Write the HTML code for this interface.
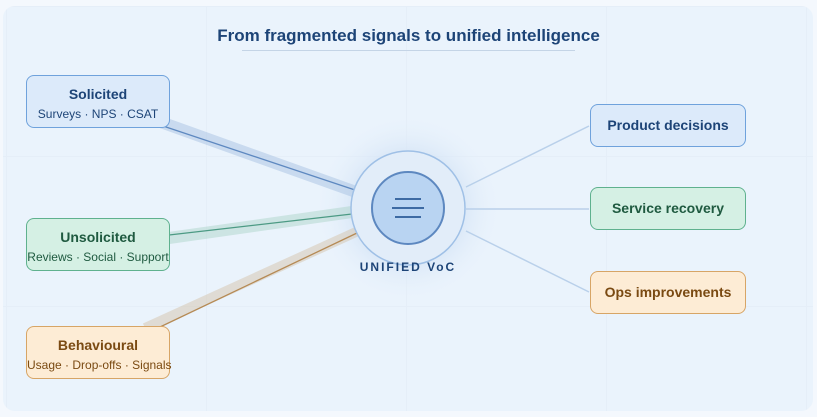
<!DOCTYPE html>
<html><head><meta charset="utf-8"><style>
body{margin:0;width:817px;height:417px;background:#f4f8fd;font-family:"Liberation Sans",sans-serif;overflow:hidden;position:relative}
.panel{position:absolute;left:3px;top:6px;width:810px;height:405px;border-radius:12px;background:#eaf3fc;
background-image:linear-gradient(#e5eef8 1px,transparent 1px),linear-gradient(90deg,#e5eef8 1px,transparent 1px);background-size:200px 150px;background-position:3px 0}
.box{position:absolute;border-radius:8px;text-align:center;box-sizing:border-box;border:1.5px solid}
.t{font-weight:bold;font-size:14px}
.s{font-size:12px;margin-top:5px;white-space:nowrap}
.blue{background:#dceafa;border-color:#6fa2dc;color:#1d4477}
.green{background:#d5f0e4;border-color:#5fb18e;color:#1f5a40}
.orange{background:#fdecd5;border-color:#d7a566;color:#7a4a12}
.title{position:absolute;top:26px;left:0;width:817px;text-align:center;font-weight:bold;font-size:17px;color:#1d4477}
</style></head><body>
<div class="panel"></div>
<div class="title">From fragmented signals to unified intelligence</div>
<div style="position:absolute;left:242px;top:50px;width:333px;height:1px;background:#c4d4e6"></div>
<svg style="position:absolute;left:0;top:0" width="817" height="417">
<defs><radialGradient id="g"><stop offset="0.5" stop-color="#cfe0f4" stop-opacity="0.8"/><stop offset="1" stop-color="#eaf3fc" stop-opacity="0"/></radialGradient></defs>
<circle cx="408" cy="208" r="95" fill="url(#g)"/>
<line x1="155" y1="120" x2="356" y2="192" stroke="#a9c3e3" stroke-width="12" opacity="0.5"/>
<line x1="160" y1="125" x2="355" y2="190" stroke="#5d88c0" stroke-width="1.3"/>
<line x1="169" y1="238" x2="352" y2="212" stroke="#a9d2c6" stroke-width="12" opacity="0.45"/>
<line x1="169" y1="235" x2="352" y2="214" stroke="#4c9a84" stroke-width="1.3"/>
<line x1="145" y1="328" x2="356" y2="232" stroke="#d3c0a4" stroke-width="10" opacity="0.45"/>
<line x1="160" y1="327" x2="357" y2="233" stroke="#b58a55" stroke-width="1.3"/>
<line x1="466" y1="187" x2="589" y2="126" stroke="#b9d0ea" stroke-width="1.5"/>
<line x1="466" y1="209" x2="589" y2="209" stroke="#b9d0ea" stroke-width="1.5"/>
<line x1="466" y1="231" x2="589" y2="292" stroke="#b9d0ea" stroke-width="1.5"/>
<circle cx="408" cy="208" r="57" fill="#e2edf9" stroke="#9fc0e6" stroke-width="1.5"/>
<circle cx="408" cy="208" r="36" fill="#b9d4f2" stroke="#5d88c0" stroke-width="2"/>
<g stroke="#3d6aa3" stroke-width="2"><line x1="395" y1="199" x2="421" y2="199"/><line x1="392" y1="208" x2="424" y2="208"/><line x1="395" y1="217" x2="421" y2="217"/></g>
<text x="408" y="271" text-anchor="middle" font-family="Liberation Sans" font-weight="bold" font-size="12" letter-spacing="2" fill="#1d4477">UNIFIED VoC</text>
</svg>
<div class="box blue" style="left:26px;top:75px;width:144px;height:53px;padding-top:10px"><div class="t">Solicited</div><div class="s">Surveys · NPS · CSAT</div></div>
<div class="box green" style="left:26px;top:218px;width:144px;height:53px;padding-top:10px"><div class="t">Unsolicited</div><div class="s">Reviews · Social · Support</div></div>
<div class="box orange" style="left:26px;top:326px;width:144px;height:53px;padding-top:10px"><div class="t">Behavioural</div><div class="s">Usage · Drop-offs · Signals</div></div>
<div class="box blue" style="left:590px;top:104px;width:156px;height:43px;line-height:40px"><span class="t">Product decisions</span></div>
<div class="box green" style="left:590px;top:187px;width:156px;height:43px;line-height:40px"><span class="t">Service recovery</span></div>
<div class="box orange" style="left:590px;top:271px;width:156px;height:43px;line-height:40px"><span class="t">Ops improvements</span></div>
</body></html>
